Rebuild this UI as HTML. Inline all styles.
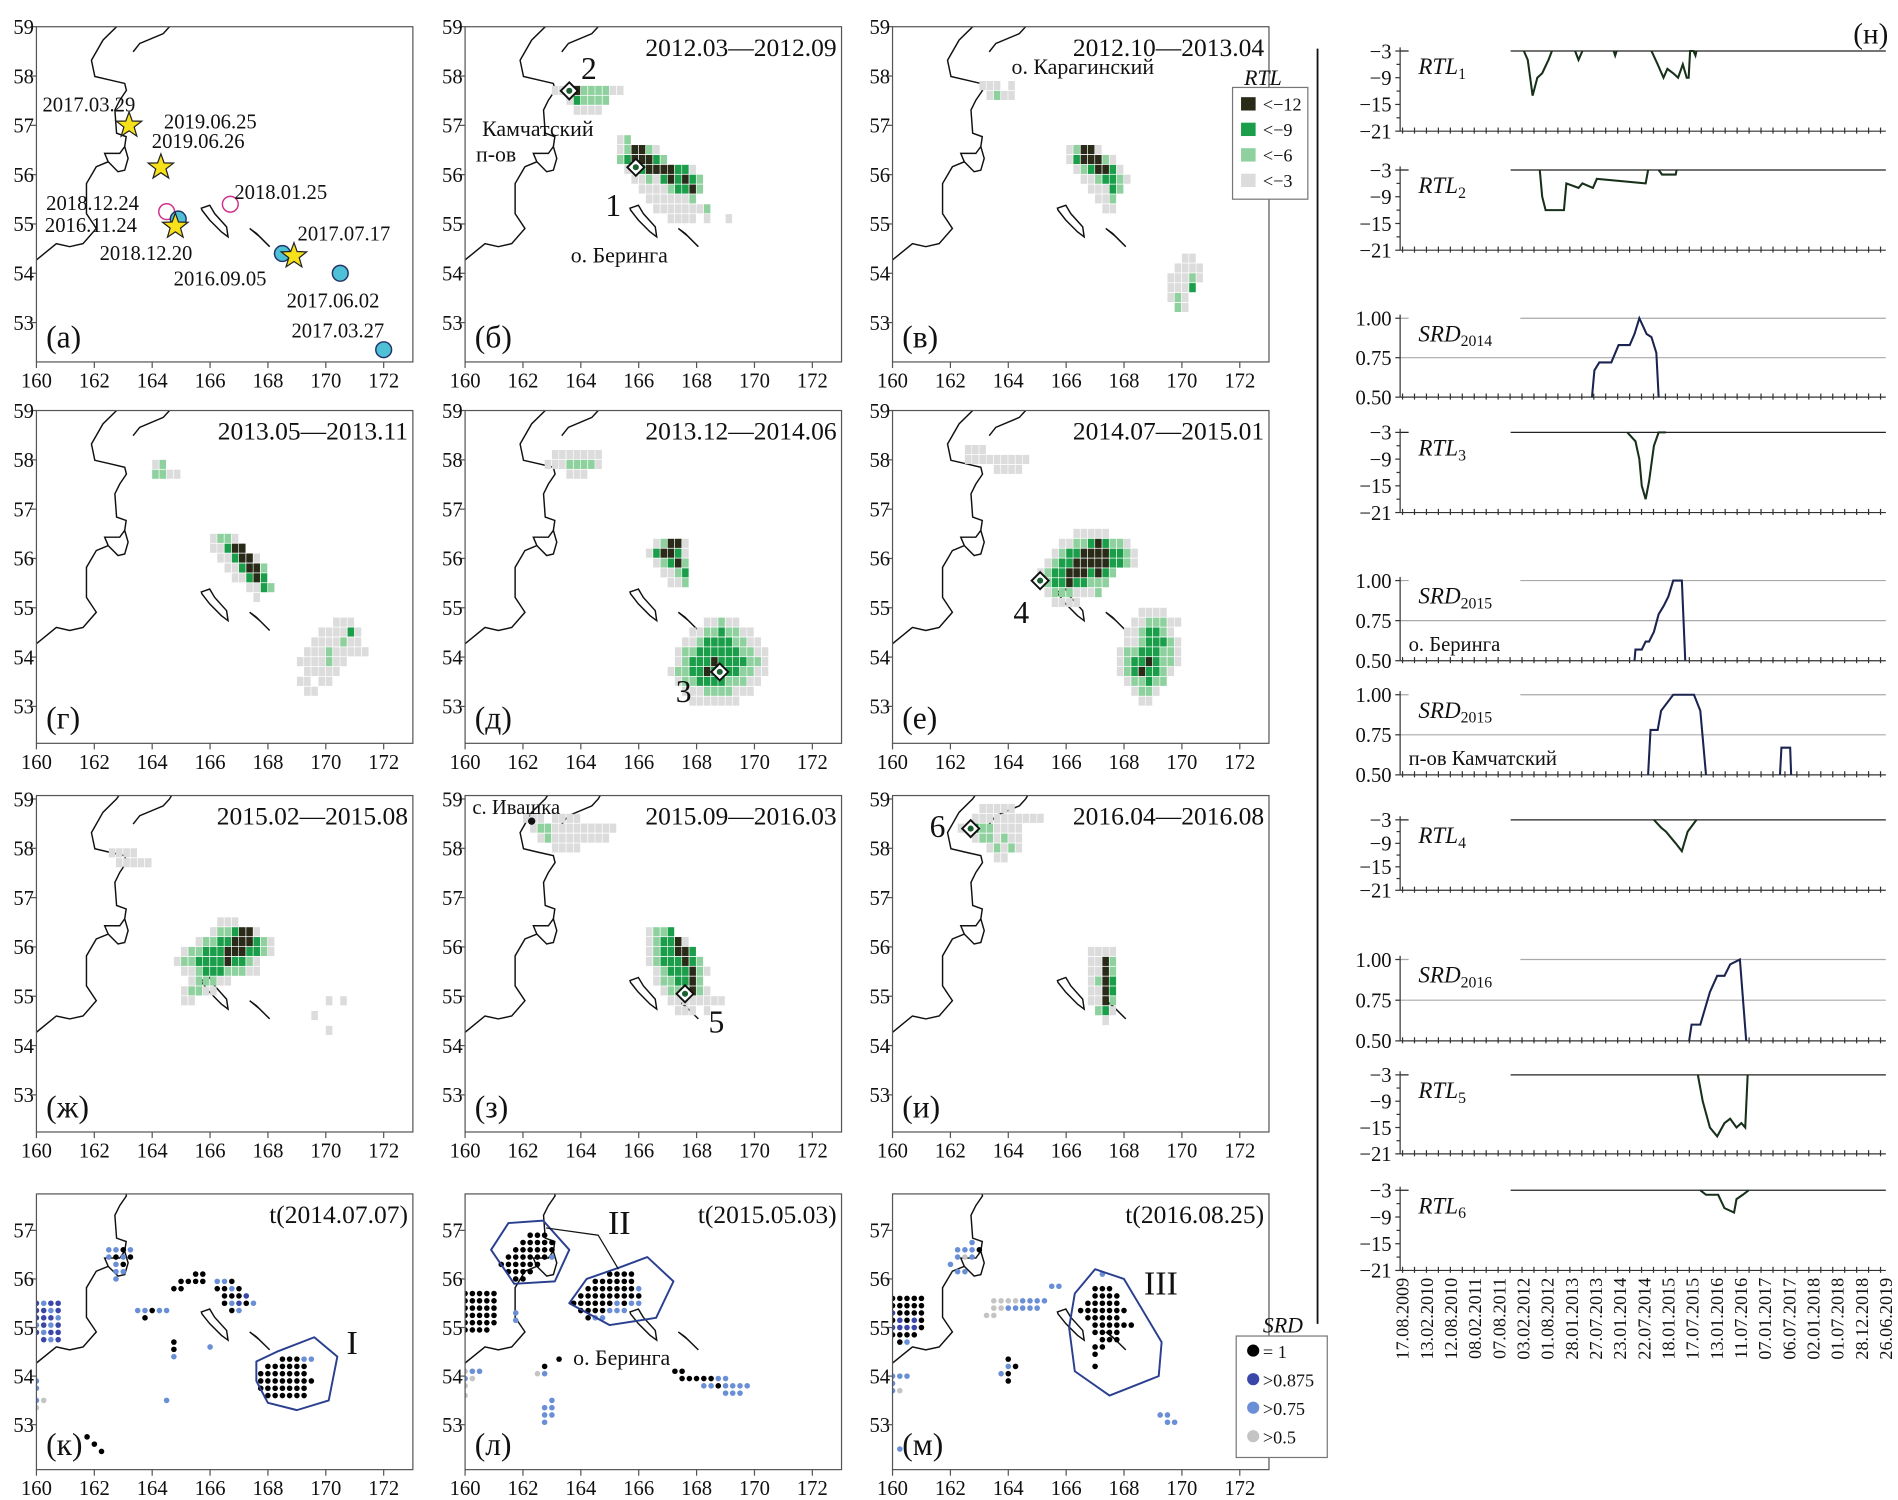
<!DOCTYPE html>
<html><head><meta charset="utf-8"><style>
html,body{margin:0;padding:0;background:#fff}
svg{display:block}
text{font-family:"Liberation Serif",serif;fill:#111}
</style></head><body>
<svg id="fig" xmlns="http://www.w3.org/2000/svg" width="1898" height="1500" viewBox="0 0 1563 1235" preserveAspectRatio="none"></svg>
<script>
// ---------------- DATA ----------------
const lonTicks=[160,162,164,166,168,170,172];
const latTicksFull=[53,54,55,56,57,58,59];
const latTicksBottom=[53,54,55,56,57];
const rtlColors=['none','#dcdcdc','#8fd19e','#1a9e4a','#2a2a18'];
const srdColors=['none','#000000','#3a46a8','#6a8fd6','#c4c4c4'];
const heatB=[[57.7,163.0,"1134222211"],[57.5,163.5,"132222"],[57.3,163.75,"1111"],[56.7,165.25,"12"],[56.5,165.25,"124421"],[56.3,165.25,"2344432"],[56.1,165.5,"1134444331"],[55.9,165.75,"1121343432"],[55.7,166.0,"111123342"],[55.5,166.25,"1111112"],[55.3,166.5,"11111112"],[55.1,167.0,"111101001"]];
const heatV=[[57.8,163.0,"11101"],[57.6,163.25,"1211"],[56.5,166.0,"12441"],[56.3,166.0,"1344421"],[56.1,166.25,"1234431"],[55.9,166.5,"1123321"],[55.7,166.75,"11132"],[55.5,167.0,"112"],[55.3,167.25,"11"],[54.3,170.0,"11"],[54.1,169.75,"1111"],[53.9,169.5,"11121"],[53.7,169.5,"1113"],[53.5,169.5,"121"],[53.3,169.75,"21"]];
const heatG=[[57.9,164.0,"12"],[57.7,164.0,"2211"],[56.4,166.0,"1221"],[56.2,166.0,"11344"],[56.0,166.25,"113441"],[55.8,166.5,"113442"],[55.6,166.75,"11343"],[55.4,167.25,"1132"],[55.2,167.5,"1"],[54.7,170.25,"111"],[54.5,169.75,"111131"],[54.3,169.5,"1111211"],[54.1,169.25,"111211111"],[53.9,169.0,"1111211"],[53.7,169.25,"11111"],[53.5,169.0,"11011"],[53.3,169.25,"11"]];
const heatD=[[58.1,163.0,"1111111"],[57.9,162.75,"11122221"],[57.7,163.5,"111"],[56.3,166.5,"12441"],[56.1,166.25,"134431"],[55.9,166.5,"12342"],[55.7,166.75,"1123"],[55.5,167.0,"112"],[54.7,168.25,"11211"],[54.5,167.75,"112232211"],[54.3,167.5,"11233332211"],[54.1,167.25,"1223333332211"],[53.9,167.25,"1233343333221"],[53.7,167.0,"12233433332211"],[53.5,167.25,"122333322211"],[53.3,167.5,"1112222111"],[53.1,167.75,"1111111"]];
const heatE=[[58.2,162.5,"111"],[58.0,162.5,"111111111"],[57.8,163.5,"1111"],[56.5,166.25,"11111"],[56.3,165.75,"1122343221"],[56.1,165.5,"123344443321"],[55.9,165.25,"1233444443321"],[55.7,165.0,"12334443432"],[55.5,165.0,"1233433222"],[55.3,165.25,"12221112"],[55.1,165.5,"1111"],[54.9,168.5,"1111"],[54.7,168.25,"1122211"],[54.5,168.0,"1123321"],[54.3,168.0,"11233321"],[54.1,167.75,"122333221"],[53.9,167.75,"123343221"],[53.7,167.75,"12343321"],[53.5,168.0,"122322"],[53.3,168.25,"1221"],[53.1,168.5,"11"]];
const heatZh=[[57.9,162.5,"1111"],[57.7,162.75,"11111"],[56.5,166.25,"111"],[56.3,166.0,"1223441"],[56.1,165.5,"12233444321"],[55.9,165.0,"1223334443321"],[55.7,164.75,"122333343321"],[55.5,165.0,"11233322211"],[55.3,165.25,"122211"],[55.1,165.0,"12211"],[54.9,165.0,"11"],[54.9,170.0,"101"],[54.6,169.5,"1"],[54.3,170.0,"1"]];
const heatZ=[[58.6,162.0,"11101111"],[58.4,162.25,"122111111111"],[58.2,162.5,"1211111111"],[58.0,163.0,"1111"],[56.3,166.25,"1223"],[56.1,166.25,"123341"],[55.9,166.25,"1233443"],[55.7,166.25,"12333432"],[55.5,166.5,"12333421"],[55.3,166.5,"1223342"],[55.1,166.75,"1222421"],[54.9,167.0,"11111111"],[54.7,167.25,"11101"]];
const heatI=[[58.8,163.0,"11111"],[58.6,162.75,"1111111111"],[58.4,162.25,"113221111"],[58.2,162.75,"1221211"],[58.0,163.25,"12121"],[57.8,163.5,"11"],[55.9,166.75,"1111"],[55.7,166.75,"1142"],[55.5,166.75,"1142"],[55.3,166.75,"1243"],[55.1,166.75,"1143"],[54.9,166.75,"1142"],[54.7,167.0,"231"],[54.5,167.25,"1"]];
const dotsK=[[55.5,160.0,"2322"],[55.35,160.0,"2232"],[55.2,160.0,"2223"],[55.05,160.0,"3232"],[54.9,160.0,"2322"],[54.75,160.25,"232"],[56.6,162.5,"3313"],[56.45,162.5,"3131"],[56.3,162.75,"31"],[56.15,162.75,"33"],[56.0,162.75,"3"],[55.35,163.5,"33133"],[55.2,163.75,"1"],[56.1,165.25,"011"],[55.95,165.0,"1111"],[55.8,164.75,"11"],[55.95,166.25,"331"],[55.8,166.25,"1131"],[55.65,166.5,"1112"],[55.5,166.5,"13213"],[55.35,166.75,"13"],[54.7,164.75,"1"],[54.55,164.75,"1"],[54.4,164.75,"3"],[54.35,168.5,"11133"],[54.2,168.0,"111111"],[54.05,167.75,"1111111"],[53.9,167.75,"11111111"],[53.75,167.75,"1111111"],[53.6,168.0,"111111"],[53.9,160.0,"3"],[53.75,160.0,"3"],[53.5,160.0,"34"],[53.35,160.0,"4"],[52.75,161.75,"1"],[52.6,162.0,"1"],[52.45,162.25,"1"],[53.5,164.5,"3"],[54.6,166.0,"3"]];
const dotsL=[[55.7,160.0,"11111"],[55.55,160.0,"11111"],[55.4,160.0,"11111"],[55.25,160.0,"11111"],[55.1,160.0,"11111"],[54.95,160.0,"1111"],[56.9,162.25,"111"],[56.75,162.0,"11111"],[56.6,161.75,"111111"],[56.45,161.5,"1111113"],[56.3,161.25,"111111"],[56.15,161.5,"1111"],[56.0,161.75,"11"],[56.1,165.0,"1111"],[55.95,164.5,"111111"],[55.8,164.25,"11111113"],[55.65,164.0,"111111111"],[55.5,163.75,"1111113133"],[55.35,164.0,"1111333"],[55.2,164.25,"133"],[55.3,161.75,"3"],[55.15,161.75,"3"],[54.35,163.25,"1"],[54.2,162.75,"1"],[54.05,162.5,"43"],[54.1,167.25,"11"],[53.95,167.5,"1111133"],[53.8,168.25,"3313333"],[53.65,169.0,"333"],[54.1,160.0,"433"],[53.95,160.0,"34"],[53.8,160.0,"4"],[53.6,160.0,"4"],[53.5,163.0,"3"],[53.35,162.75,"33"],[53.2,162.75,"33"],[53.05,162.75,"3"]];
const dotsM=[[55.6,160.0,"11111"],[55.45,160.0,"11111"],[55.3,160.0,"21111"],[55.15,160.0,"12121"],[55.0,160.0,"22221"],[54.85,160.0,"1111"],[54.7,160.25,"13"],[56.75,162.75,"3"],[56.6,162.25,"3331"],[56.45,162.25,"343"],[56.3,162.0,"3"],[56.15,162.25,"33"],[55.55,163.5,"44443333"],[55.4,163.5,"4433333"],[55.25,163.25,"44"],[55.85,165.5,"33"],[56.1,167.25,"3"],[55.8,167.0,"111"],[55.65,167.0,"1111"],[55.5,166.75,"11111"],[55.35,166.5,"1111111"],[55.2,166.75,"11111"],[55.05,167.0,"111111"],[54.9,167.0,"1111"],[54.75,167.25,"111"],[54.6,167.0,"11"],[54.45,167.0,"1"],[54.2,167.0,"1"],[54.35,164.0,"1"],[54.2,164.0,"31"],[54.05,163.75,"31"],[53.9,164.0,"1"],[54.0,160.0,"333"],[53.85,160.0,"3"],[53.7,160.0,"34"],[53.2,169.25,"33"],[53.05,169.5,"33"],[52.5,160.25,"3"]];
// time series [decimal year, value]
const dateLabels=["17.08.2009","13.02.2010","12.08.2010","08.02.2011","07.08.2011","03.02.2012","01.08.2012","28.01.2013","27.07.2013","23.01.2014","22.07.2014","18.01.2015","17.07.2015","13.01.2016","11.07.2016","07.01.2017","06.07.2017","02.01.2018","01.07.2018","28.12.2018","26.06.2019"];
const rtl1=[[[2012.14,-3],[2012.22,-5],[2012.32,-13],[2012.42,-9],[2012.52,-8],[2012.65,-5],[2012.72,-3]],[[2013.2,-3],[2013.27,-5],[2013.35,-3]],[[2014.0,-3],[2014.03,-4],[2014.06,-3]],[[2014.78,-3],[2014.91,-6],[2015.03,-9],[2015.11,-7],[2015.23,-8],[2015.33,-9],[2015.43,-6],[2015.51,-9],[2015.55,-9],[2015.58,-3],[2015.65,-3],[2015.69,-4],[2015.71,-3]]];
const rtl2=[[[2012.47,-3],[2012.52,-9],[2012.59,-12],[2012.97,-12],[2013.02,-6],[2013.27,-7],[2013.35,-6],[2013.57,-7],[2013.65,-5],[2014.66,-6],[2014.71,-3]],[[2014.93,-3],[2015.0,-4],[2015.28,-4],[2015.3,-3]]];
const srd2014=[[[2013.55,0.5],[2013.6,0.67],[2013.7,0.72],[2013.95,0.72],[2014.1,0.83],[2014.33,0.83],[2014.43,0.9],[2014.53,1.0],[2014.68,0.9],[2014.78,0.88],[2014.88,0.78],[2014.93,0.5]]];
const rtl3=[[[2014.28,-3],[2014.45,-5],[2014.53,-9],[2014.58,-15],[2014.66,-18],[2014.73,-14],[2014.83,-6],[2014.93,-3],[2015.08,-3]]];
const srd2015a=[[[2014.43,0.5],[2014.45,0.57],[2014.58,0.57],[2014.66,0.62],[2014.73,0.62],[2014.83,0.68],[2014.93,0.79],[2015.03,0.84],[2015.13,0.9],[2015.23,1.0],[2015.41,1.0],[2015.48,0.5]]];
const srd2015b=[[[2014.71,0.5],[2014.76,0.78],[2014.91,0.78],[2014.98,0.9],[2015.23,1.0],[2015.66,1.0],[2015.79,0.9],[2015.91,0.5]],[[2017.44,0.5],[2017.47,0.67],[2017.65,0.67],[2017.67,0.5]]];
const rtl4=[[[2014.83,-3],[2014.98,-5],[2015.08,-6],[2015.28,-9],[2015.41,-11],[2015.53,-6],[2015.71,-3]]];
const srd2016=[[[2015.56,0.5],[2015.61,0.6],[2015.79,0.6],[2015.99,0.8],[2016.14,0.9],[2016.29,0.9],[2016.41,0.97],[2016.61,1.0],[2016.74,0.5]]];
const rtl5=[[[2015.74,-3],[2015.84,-9],[2015.99,-15],[2016.14,-17],[2016.29,-14],[2016.41,-13],[2016.54,-15],[2016.64,-14],[2016.72,-15],[2016.77,-3]]];
const rtl6=[[[2015.79,-3],[2015.91,-4],[2016.16,-4],[2016.29,-7],[2016.49,-8],[2016.54,-5],[2016.67,-4],[2016.79,-3]]];

// ---------------- DRAW ----------------
const NS='http://www.w3.org/2000/svg';
const svg=document.getElementById('fig');
function mk(tag,attrs,parent){const e=document.createElementNS(NS,tag);for(const k in attrs)e.setAttribute(k,attrs[k]);(parent||svg).appendChild(e);return e;}
function txt(x,y,s,size,anchor,parent,extra){const e=mk('text',Object.assign({x:x,y:y,'font-size':size,'text-anchor':anchor||'start'},extra||{}),parent);e.textContent=s;return e;}

const colX=[30,383,735];
const rows=[{top:22,bot:298,latTop:59,k:40.6},{top:338,bot:612,latTop:59,k:40.6},{top:655,bot:932,latTop:59.07,k:40.6},{top:983,bot:1210,latTop:57.75,k:40}];
const W=310, KX=23.83;
function axes(ci,ri){const x0=colX[ci],r=rows[ri];return{X:lon=>x0+(lon-160)*KX,Y:lat=>r.top+(r.latTop-lat)*r.k,x0:x0,r:r};}

const coast=[[159.9,54.2],[160.0,54.27],[160.69,54.6],[161.15,54.54],[161.61,54.6],[162.07,54.91],[161.73,55.21],[161.73,55.82],[162.07,56.16],[162.48,56.26],[162.82,56.06],[163.05,56.09],[163.17,56.33],[163.05,56.57],[162.88,56.43],[162.36,56.43],[162.48,56.26]];
const coastN=[[163.05,56.57],[163.1,56.77],[162.77,56.84],[162.71,57.31],[162.88,57.51],[163.11,57.71],[163.05,57.85],[162.53,57.92],[162.02,57.99],[161.9,58.32],[162.3,58.73],[162.77,59.0],[163.0,59.2]];
const spit=[[163.34,58.49],[163.57,58.66],[164.38,58.86],[164.6,59.0],[164.8,59.2]];
const bering=[[165.7,55.32],[165.99,55.38],[166.16,55.21],[166.57,54.94],[166.62,54.74],[166.39,54.84],[165.99,55.08],[165.72,55.28]];
const medny=[[167.37,54.91],[167.7,54.75],[168.06,54.54],[167.6,54.81]];

function mapPanel(ci,ri,name){
  const a=axes(ci,ri),r=a.r,x0=a.x0;
  const g=mk('g',{});
  
  
  const cid='clip-'+name;
  const cp=mk('clipPath',{id:cid},g);mk('rect',{x:x0,y:r.top,width:W,height:r.bot-r.top},cp);
  const inner=mk('g',{'clip-path':'url(#'+cid+')'},g);
  const pts=arr=>arr.map(p=>a.X(p[0]).toFixed(1)+','+a.Y(p[1]).toFixed(1)).join(' ');
  const c=mk('polyline',{points:pts(coast),fill:'none',stroke:'#111','stroke-width':1.2},inner);
  
  
  const c2=mk('polyline',{points:pts(coastN),fill:'none',stroke:'#111','stroke-width':1.2},inner);
  
  
  const s=mk('polyline',{points:pts(spit),fill:'none',stroke:'#111','stroke-width':1.2},inner);
  
  
  const b=mk('polygon',{points:pts(bering),fill:'none',stroke:'#111','stroke-width':1.2},inner);
  
  
  const m=mk('polygon',{points:pts(medny),fill:'none',stroke:'#111','stroke-width':1.2},inner);
  
  
  const box=mk('rect',{x:x0,y:r.top,width:W,height:r.bot-r.top,fill:'none',stroke:'#555','stroke-width':1},g);
  
  
  lonTicks.forEach(v=>{const x=a.X(v);mk('line',{x1:x,x2:x,y1:r.bot,y2:r.bot+5,stroke:'#555'},g);
    const t=txt(x,r.bot+21,String(v),17,'middle',g);
    
    });
  (ri===3?latTicksBottom:latTicksFull).forEach(v=>{const y=a.Y(v);mk('line',{x1:x0-5,x2:x0,y1:y,y2:y,stroke:'#555'},g);
    const t=txt(x0-2,y+6,String(v),17,'end',g);
    
    });
  return {a:a,g:g,inner:inner};
}
function heat(P,data){
  data.forEach(row=>{const lat=row[0],lon0=row[1],s=row[2];
    for(let i=0;i<s.length;i++){const lv=+s[i];if(!lv)continue;const lon=lon0+i*0.25;
      const x=P.a.X(lon),y=P.a.Y(lat+0.1);
      const cell=mk('rect',{x:x.toFixed(1),y:y.toFixed(1),width:(0.25*KX-0.6).toFixed(1),height:(0.2*P.a.r.k-0.6).toFixed(1),fill:rtlColors[lv]},P.inner);
      
      }});
}
function dots(P,data){
  data.forEach(row=>{const lat=row[0],lon0=row[1],s=row[2];
    for(let i=0;i<s.length;i++){const lv=+s[i];if(!lv)continue;const lon=lon0+i*0.25;
      const d=mk('circle',{cx:P.a.X(lon).toFixed(1),cy:P.a.Y(lat).toFixed(1),r:2.3,fill:srdColors[lv]},P.inner);
      
      }});
}
function diamond(P,lon,lat){const x=P.a.X(lon),y=P.a.Y(lat);
  const d=mk('polygon',{points:`${x},${y-7} ${x+7},${y} ${x},${y+7} ${x-7},${y}`,fill:'#fff',stroke:'#111','stroke-width':1.6},P.g);
  
  
  const c=mk('circle',{cx:x,cy:y,r:2.5,fill:'#1a6030'},P.g);
  
  }
function panelText(P,x,y,s,size,anchor,name){const t=txt(x,y,s,size,anchor,P.g);
  
  return t;}
function title(P,s){const r=P.a.r;panelText(P,P.a.x0+W-4,r.top+24,s,21,'end','panel-title');}
function letter(P,s){const r=P.a.r;panelText(P,P.a.x0+8,r.bot-12,s,26,'start','panel-letter');}

// Panel a
const Pa=mapPanel(0,0,'panel-a');letter(Pa,'(а)');
function star(P,lon,lat){const cx=P.a.X(lon),cy=P.a.Y(lat);let p=[];for(let i=0;i<10;i++){const ang=-Math.PI/2+i*Math.PI/5,rr=i%2?4.5:11;p.push((cx+rr*Math.cos(ang)).toFixed(1)+','+(cy+rr*Math.sin(ang)).toFixed(1));}
  const s=mk('polygon',{points:p.join(' '),fill:'#f7e11a',stroke:'#222','stroke-width':1},P.g);
  
  }
function circ(P,lon,lat,fill,stroke,name){const c=mk('circle',{cx:P.a.X(lon),cy:P.a.Y(lat),r:6.5,fill:fill,stroke:stroke,'stroke-width':1.2},P.g);
  
  }
circ(Pa,164.5,55.25,'#fff','#d0308a','pink-circle');
circ(Pa,166.7,55.4,'#fff','#d0308a','pink-circle');
circ(Pa,164.9,55.1,'#4fc1d6','#236','cyan-circle');
circ(Pa,168.5,54.4,'#4fc1d6','#236','cyan-circle');
circ(Pa,170.5,54.0,'#4fc1d6','#236','cyan-circle');
circ(Pa,172.0,52.45,'#4fc1d6','#236','cyan-circle');
star(Pa,163.2,57.0);star(Pa,164.3,56.15);star(Pa,164.8,54.95);star(Pa,168.9,54.35);
[[35,92,'2017.03.29'],[135,106,'2019.06.25'],[125,122,'2019.06.26'],[38,173,'2018.12.24'],[37,191,'2016.11.24'],[82,214,'2018.12.20'],[193,164,'2018.01.25'],[245,198,'2017.07.17'],[143,235,'2016.09.05'],[236,253,'2017.06.02'],[240,278,'2017.03.27']].forEach(d=>{panelText(Pa,d[0],d[1],d[2],17,'start','event-date-label');});

// Panel б
const Pb=mapPanel(1,0,'panel-b');heat(Pb,heatB);diamond(Pb,163.6,57.7);diamond(Pb,165.9,56.15);title(Pb,'2012.03—2012.09');letter(Pb,'(б)');
panelText(Pb,485,65,'2',26,'middle','event-number');panelText(Pb,505,178,'1',26,'middle','event-number');
panelText(Pb,397,112,'Камчатский',18,'start','place-label');panelText(Pb,392,133,'п-ов',18,'start','place-label');panelText(Pb,470,216,'о. Беринга',18,'start','place-label');
// Panel в
const Pv=mapPanel(2,0,'panel-v');heat(Pv,heatV);title(Pv,'2012.10—2013.04');letter(Pv,'(в)');
panelText(Pv,833,61,'о. Карагинский',18,'start','place-label');
// RTL legend
(function(){const g=mk('g',{});
  mk('rect',{x:1015,y:72,width:62,height:92,fill:'#fff',stroke:'#777'},g);
  const t=txt(1040,70,'RTL',18,'middle',g,{'font-style':'italic'});
  const labs=['<−12','<−9','<−6','<−3'];
  labs.forEach((l,i)=>{const y=80+i*21;const sw=mk('rect',{x:1022,y:y,width:12,height:11,fill:rtlColors[4-i]},g);
    
    const lt=txt(1040,y+11,l,15,'start',g);});})();
// Row 2
const Pg=mapPanel(0,1,'panel-g');heat(Pg,heatG);title(Pg,'2013.05—2013.11');letter(Pg,'(г)');
const Pd=mapPanel(1,1,'panel-d');heat(Pd,heatD);diamond(Pd,168.8,53.7);title(Pd,'2013.12—2014.06');letter(Pd,'(д)');panelText(Pd,563,578,'3',26,'middle','event-number');
const Pe=mapPanel(2,1,'panel-e');heat(Pe,heatE);diamond(Pe,165.1,55.55);title(Pe,'2014.07—2015.01');letter(Pe,'(е)');panelText(Pe,841,513,'4',26,'middle','event-number');
// Row 3
const Pzh=mapPanel(0,2,'panel-zh');heat(Pzh,heatZh);title(Pzh,'2015.02—2015.08');letter(Pzh,'(ж)');
const Pz=mapPanel(1,2,'panel-z');heat(Pz,heatZ);diamond(Pz,167.6,55.05);title(Pz,'2015.09—2016.03');letter(Pz,'(з)');panelText(Pz,590,850,'5',26,'middle','event-number');
panelText(Pz,389,670,'с. Ивашка',17,'start','place-label');
const iv=mk('circle',{cx:Pz.a.X(162.3),cy:Pz.a.Y(58.55),r:3,fill:'#111'},Pz.g);
const Pi=mapPanel(2,2,'panel-i');heat(Pi,heatI);diamond(Pi,162.7,58.4);title(Pi,'2016.04—2016.08');letter(Pi,'(и)');panelText(Pi,772,689,'6',26,'middle','event-number');
// Row 4
function blob(P,pts,name){const d=mk('polygon',{points:pts.map(p=>P.a.X(p[0]).toFixed(1)+','+P.a.Y(p[1]).toFixed(1)).join(' '),fill:'none',stroke:'#2a3f8f','stroke-width':1.6,'stroke-linejoin':'round'},P.g);
  }
const Pk=mapPanel(0,3,'panel-k');dots(Pk,dotsK);title(Pk,'t(2014.07.07)');letter(Pk,'(к)');
blob(Pk,[[167.6,54.3],[168.3,54.5],[169.6,54.8],[170.4,54.4],[170.1,53.5],[169,53.3],[168,53.45],[167.6,53.9]],'cluster-I-outline');panelText(Pk,290,1115,'I',28,'middle','cluster-label');
const Pl=mapPanel(1,3,'panel-l');dots(Pl,dotsL);title(Pl,'t(2015.05.03)');letter(Pl,'(л)');
blob(Pl,[[160.9,56.6],[161.5,57.15],[162.7,57.2],[163.6,56.6],[163.1,55.95],[161.7,55.9]],'cluster-II-outline');
blob(Pl,[[163.6,55.5],[164.2,56.0],[165.4,56.25],[166.3,56.45],[167.2,55.95],[166.6,55.2],[165,55.05]],'cluster-II-outline');
const ln=mk('polyline',{points:`${Pl.a.X(162.8)},${Pl.a.Y(57.05)} ${Pl.a.X(164.6)},${Pl.a.Y(56.9)} ${Pl.a.X(165.3)},${Pl.a.Y(56.2)}`,fill:'none',stroke:'#111'},Pl.g);
panelText(Pl,510,1016,'II',28,'middle','cluster-label');panelText(Pl,472,1124,'о. Беринга',18,'start','place-label');
const Pm=mapPanel(2,3,'panel-m');dots(Pm,dotsM);title(Pm,'t(2016.08.25)');letter(Pm,'(м)');
blob(Pm,[[166.3,55.7],[167,56.2],[168,56.0],[169.3,54.7],[169.2,54.0],[167.5,53.6],[166.3,54.1],[166.1,55.0]],'cluster-III-outline');panelText(Pm,956,1066,'III',28,'middle','cluster-label');
// SRD legend
(function(){const g=mk('g',{});
  mk('rect',{x:1018,y:1100,width:75,height:100,fill:'#fff',stroke:'#777'},g);
  const t=txt(1040,1097,'SRD',18,'start',g,{'font-style':'italic'});
  ['= 1','>0.875','>0.75','>0.5'].forEach((l,i)=>{const y=1112+i*23.5;const c=mk('circle',{cx:1032,cy:y,r:5,fill:srdColors[i+1]},g);
    
    const lt=txt(1040,y+6,l,15,'start',g);});})();

// divider
const dv=mk('line',{x1:1085,x2:1085,y1:40,y2:1090,stroke:'#111','stroke-width':1.5});

// ---------------- RIGHT TIME SERIES ----------------
const TX0=1155,TPX=39.8,T0=2009.63,TRIGHT=1553;
const tx=t=>TX0+(t-T0)*TPX;
const gts=mk('g',{});
const ln2=txt(1555,36,'(н)',24,'end',gts);
function series(top,bot,kind,data,label,sub,name,color,extraLabel){
  const g=mk('g',{},gts);
  let vmin,vmax,ticks;
  if(kind==='rtl'){vmin=-21;vmax=-3;ticks=[-3,-9,-15,-21];}else{vmin=0.5;vmax=1.0;ticks=[1.0,0.75,0.5];}
  const Y=v=>top+(vmax-v)/(vmax-vmin)*(bot-top);
  if(kind==='srd'){[1.0,0.75].forEach(v=>mk('line',{x1:1153,x2:TRIGHT,y1:Y(v),y2:Y(v),stroke:'#aaa','stroke-width':1},g));}
  else mk('line',{x1:1153,x2:TRIGHT,y1:top,y2:top,stroke:'#222','stroke-width':1},g);
  mk('line',{x1:1153,x2:1153,y1:top-3,y2:bot,stroke:'#333'},g);
  mk('line',{x1:1153,x2:TRIGHT,y1:bot,y2:bot,stroke:'#333'},g);
  for(let x=TX0;x<=TRIGHT+0.5;x+=TPX*0.4945/2){mk('line',{x1:x,x2:x,y1:bot-3,y2:bot+2,stroke:'#333'},g);}
  if(kind==='rtl'){[-6,-12,-18].forEach(v=>mk('line',{x1:1150,x2:1153,y1:Y(v),y2:Y(v),stroke:'#333'},g));}
  ticks.forEach(v=>{const y=Y(v);mk('line',{x1:1149,x2:1153,y1:y,y2:y,stroke:'#333'},g);
    const t=txt(1146,y+6,kind==='rtl'?String(v).replace('-','−'):v.toFixed(2),17,'end',g);});
  const lb=mk('rect',{x:1160,y:top-2,width:kind==='rtl'?84:92,height:22,fill:'#fff'},g);
  data.forEach(seg=>{const p=mk('polyline',{points:seg.map(d=>tx(d[0]).toFixed(1)+','+Y(d[1]).toFixed(1)).join(' '),fill:'none',stroke:color,'stroke-width':1.7},g);
    });
  const t=mk('text',{x:1168,y:top+19,'font-size':19,'font-style':'italic'},g);t.textContent=label;
  const s=mk('tspan',{'font-size':13,dy:4,'font-style':'normal'},t);s.textContent=sub;
  
  if(extraLabel){const e=txt(1160,bot-8,extraLabel,17,'start',g);}
}
series(42,108,'rtl',rtl1,'RTL','1','rtl1-chart','#17301a');
series(140,206,'rtl',rtl2,'RTL','2','rtl2-chart','#17301a');
series(262,327,'srd',srd2014,'SRD','2014','srd2014-chart','#1b2450');
series(356,422,'rtl',rtl3,'RTL','3','rtl3-chart','#17301a');
series(478,544,'srd',srd2015a,'SRD','2015','srd2015a-chart','#1b2450','о. Беринга');
series(572,638,'srd',srd2015b,'SRD','2015','srd2015b-chart','#1b2450','п-ов Камчатский');
series(675,733,'rtl',rtl4,'RTL','4','rtl4-chart','#17301a');
series(790,857,'srd',srd2016,'SRD','2016','srd2016-chart','#1b2450');
series(885,950,'rtl',rtl5,'RTL','5','rtl5-chart','#17301a');
series(980,1046,'rtl',rtl6,'RTL','6','rtl6-chart','#17301a');
dateLabels.forEach((d,i)=>{const x=TX0+i*(TRIGHT-TX0)/(dateLabels.length-1);
  const t=mk('text',{x:0,y:0,'font-size':15,'text-anchor':'end',transform:`translate(${x+5},1052) rotate(-90)`},gts);t.textContent=d;
  
  });
</script>
</body></html>
